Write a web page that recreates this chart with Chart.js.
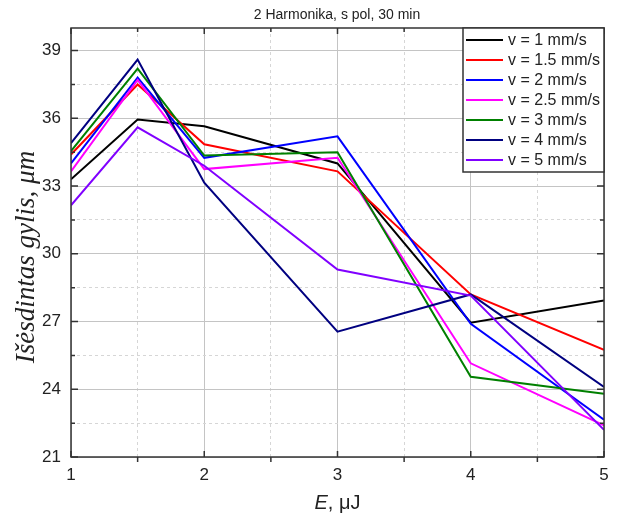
<!DOCTYPE html>
<html>
<head>
<meta charset="utf-8">
<script src="https://cdn.jsdelivr.net/npm/chart.js@4.4.1/dist/chart.umd.min.js"></script>
<style>
  html, body { margin: 0; padding: 0; background: #fff; }
  #wrap { width: 622px; height: 518px; }
</style>
</head>
<body>
<div id="wrap"><canvas id="myChart" width="622" height="518"></canvas></div>
<script>
// E, uJ
const energy = [1, 1.5, 2, 3, 4, 5];

// etched depth, um
const v1   = [33.3, 35.95, 35.65, 34.0, 26.95, 27.93];
const v1_5 = [34.4, 37.5, 34.85, 33.65, 28.2, 25.75];
const v2   = [34.0, 37.8, 34.25, 35.2, 26.9, 22.65];
const v2_5 = [33.65, 37.7, 33.75, 34.25, 25.15, 22.4];
const v3   = [34.55, 38.2, 34.35, 34.5, 24.55, 23.8];
const v4   = [34.9, 38.6, 33.15, 26.55, 28.2, 24.1];
const v5   = [32.15, 35.6, 33.9, 29.3, 28.15, 22.2];

const seriesLabels = ['v = 1 mm/s', 'v = 1.5 mm/s', 'v = 2 mm/s', 'v = 2.5 mm/s', 'v = 3 mm/s', 'v = 4 mm/s', 'v = 5 mm/s'];
const seriesColors = ['#000000', '#ff0000', '#0000ff', '#ff00ff', '#008000', '#000080', '#8000ff'];
const seriesValues = [v1, v1_5, v2, v2_5, v3, v4, v5];

const xTicks = [1, 1.5, 2, 2.5, 3, 3.5, 4, 4.5, 5];
const yTicks = [21, 22.5, 24, 25.5, 27, 28.5, 30, 31.5, 33, 34.5, 36, 37.5, 39];
const xMajor = [1, 2, 3, 4, 5];
const yMajor = [21, 24, 27, 30, 33, 36, 39];

const SANS = "'Liberation Sans', Arial, sans-serif";

const datasets = seriesValues.map((vals, i) => ({
    label: seriesLabels[i],
    data: energy.map((e, j) => ({x: e, y: vals[j]})),
    borderColor: seriesColors[i],
    backgroundColor: seriesColors[i],
    borderWidth: 2,
    pointRadius: 0,
    tension: 0,
    order: seriesValues.length - i
}));

const isMajorX = v => xMajor.includes(v);
const isMajorY = v => yMajor.includes(v);

// frame, inner ticks, titles and the boxed legend
const decor = {
    id: 'decor',
    afterDatasetsDraw(chart) {
        const ctx = chart.ctx;
        const a = chart.chartArea;
        const xs = chart.scales.x, ys = chart.scales.y;
        ctx.save();
        ctx.strokeStyle = '#333';
        ctx.lineWidth = 1.5;
        ctx.strokeRect(a.left, a.top, a.right - a.left, a.bottom - a.top);

        ctx.beginPath();
        xTicks.forEach(v => {
            const px = xs.getPixelForValue(v);
            if (isMajorX(v)) {
                ctx.moveTo(px, a.bottom); ctx.lineTo(px, a.bottom - 6);
                ctx.moveTo(px, a.top); ctx.lineTo(px, a.top + 6);
            } else {
                ctx.moveTo(px, a.bottom); ctx.lineTo(px, a.bottom + 5);
                ctx.moveTo(px, a.top); ctx.lineTo(px, a.top + 4);
            }
        });
        yTicks.forEach(v => {
            const py = ys.getPixelForValue(v);
            const len = isMajorY(v) ? 7 : 4;
            ctx.moveTo(a.left, py); ctx.lineTo(a.left + len, py);
            ctx.moveTo(a.right, py); ctx.lineTo(a.right - len, py);
        });
        ctx.stroke();

        // title
        ctx.fillStyle = '#222';
        ctx.textAlign = 'center';
        ctx.textBaseline = 'middle';
        ctx.font = '14px ' + SANS;
        ctx.fillText('2 Harmonika, s pol, 30 min', 337, 15);

        // x title: italic E + regular ", μJ"
        const p1 = 'E', p2 = ', \u03bcJ';
        ctx.font = 'italic 20px ' + SANS;
        const w1 = ctx.measureText(p1).width;
        ctx.font = '20px ' + SANS;
        const w2 = ctx.measureText(p2).width;
        const cx = (a.left + a.right) / 2;
        const sx = cx - (w1 + w2) / 2;
        ctx.textAlign = 'left';
        ctx.font = 'italic 20px ' + SANS;
        ctx.fillText(p1, sx, 503);
        ctx.font = '20px ' + SANS;
        ctx.fillText(p2, sx + w1, 503);

        // y title
        ctx.save();
        ctx.translate(27, 257);
        ctx.rotate(-Math.PI / 2);
        ctx.textAlign = 'center';
        ctx.font = "italic 27px 'Liberation Serif', 'Times New Roman', serif";
        ctx.fillText('I\u0161\u0117sdintas gylis, \u03bcm', 0, 0);
        ctx.restore();

        // legend box
        const lx = 463, ly = a.top, lw = a.right - 463, lh = 172 - a.top;
        ctx.fillStyle = '#fff';
        ctx.fillRect(lx, ly, lw, lh);
        ctx.strokeStyle = '#333';
        ctx.lineWidth = 1.5;
        ctx.strokeRect(lx, ly, lw, lh);
        ctx.font = '16px ' + SANS;
        ctx.textAlign = 'left';
        ctx.textBaseline = 'middle';
        chart.data.datasets.forEach((ds, i) => {
            const y = 40 + i * 20;
            ctx.strokeStyle = ds.borderColor;
            ctx.lineWidth = 2;
            ctx.beginPath();
            ctx.moveTo(466, y); ctx.lineTo(503, y);
            ctx.stroke();
            ctx.fillStyle = '#222';
            ctx.fillText(ds.label, 508, y + 1);
        });
        ctx.restore();
    }
};

const config = {
    type: 'line',
    data: { datasets: datasets },
    options: {
        responsive: false,
        animation: false,
        layout: { padding: { top: 28, right: 18, left: 0, bottom: 0 } },
        plugins: {
            legend: { display: false },
            title: { display: false },
            tooltip: { enabled: false }
        },
        scales: {
            x: {
                type: 'linear',
                min: 1,
                max: 5,
                afterBuildTicks: axis => { axis.ticks = xTicks.map(v => ({value: v})); },
                afterFit: axis => { axis.height = 61; },
                ticks: {
                    autoSkip: false,
                    maxRotation: 0,
                    padding: 8,
                    color: '#222',
                    font: { family: SANS, size: 17 },
                    callback: v => isMajorX(v) ? String(v) : ''
                },
                grid: {
                    drawTicks: false,
                    color: c => isMajorX(c.tick.value) ? '#c4c4c4' : '#d6d6d6',
                    lineWidth: 1
                },
                border: {
                    display: false,
                    dash: c => (c.tick && isMajorX(c.tick.value)) ? [] : [3, 3]
                }
            },
            y: {
                type: 'linear',
                min: 21,
                max: 40,
                afterBuildTicks: axis => { axis.ticks = yTicks.map(v => ({value: v})); },
                afterFit: axis => { axis.width = 71; },
                ticks: {
                    autoSkip: false,
                    padding: 10,
                    color: '#222',
                    font: { family: SANS, size: 17 },
                    callback: v => isMajorY(v) ? String(v) : ''
                },
                grid: {
                    drawTicks: false,
                    color: c => isMajorY(c.tick.value) ? '#c4c4c4' : '#d6d6d6',
                    lineWidth: 1
                },
                border: {
                    display: false,
                    dash: c => (c.tick && isMajorY(c.tick.value)) ? [] : [3, 3]
                }
            }
        }
    },
    plugins: [decor]
};

const myChart = new Chart(document.getElementById('myChart'), config);
</script>
</body>
</html>
